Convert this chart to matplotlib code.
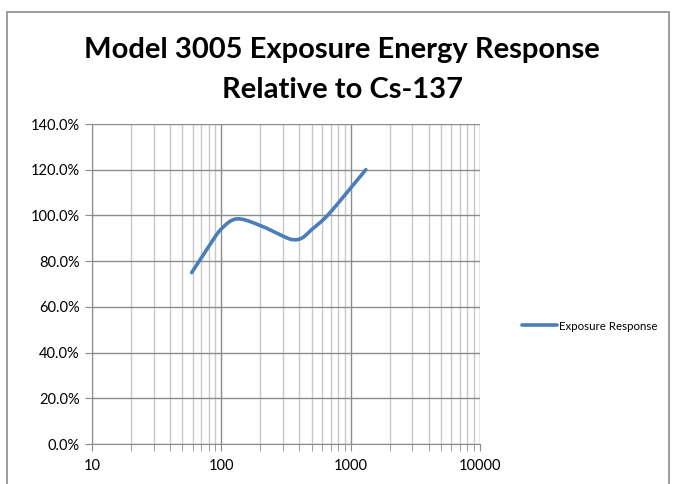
import numpy as np
import matplotlib
matplotlib.use('Agg')
import matplotlib.pyplot as plt
from matplotlib.ticker import FuncFormatter, LogLocator, NullFormatter
from matplotlib.patches import Rectangle

# energy (keV) vs response relative to Cs-137
energy = [59, 80, 100, 132, 200, 300, 358, 420, 500, 662, 1000, 1310]
response = [0.75, 0.865, 0.941, 0.985, 0.956, 0.909, 0.894, 0.901, 0.938, 1.00, 1.12, 1.20]

plt.rcParams['font.family'] = ['Lato', 'DejaVu Sans']

def smooth(x, y, n=40):
    # excel-style smoothed line: catmull-rom in log-x / linear-y space
    lx = np.log10(x)
    yy = np.array(y, dtype=float)
    px = np.concatenate([[2*lx[0]-lx[1]], lx, [2*lx[-1]-lx[-2]]])
    py = np.concatenate([[2*yy[0]-yy[1]], yy, [2*yy[-1]-yy[-2]]])
    ox, oy = [], []
    for i in range(1, len(px)-2):
        t = np.linspace(0, 1, n)
        p0, p1, p2, p3 = px[i-1], px[i], px[i+1], px[i+2]
        q0, q1, q2, q3 = py[i-1], py[i], py[i+1], py[i+2]
        c1x, c1y = p1 + (p2-p0)/6, q1 + (q2-q0)/6
        c2x, c2y = p2 - (p3-p1)/6, q2 - (q3-q1)/6
        bx = (1-t)**3*p1 + 3*(1-t)**2*t*c1x + 3*(1-t)*t**2*c2x + t**3*p2
        by = (1-t)**3*q1 + 3*(1-t)**2*t*c1y + 3*(1-t)*t**2*c2y + t**3*q2
        ox.extend(bx); oy.extend(by)
    return 10**np.array(ox), np.array(oy)

fig = plt.figure(figsize=(6.74, 4.84), dpi=100)
fig.patches.append(Rectangle((7/674, -0.1), 662/674, 1.1 - 12/484, transform=fig.transFigure,
                             fill=False, edgecolor='#8c8c8c', linewidth=1.2))
ax = fig.add_axes([92/674, 40/484, 388/674, 320/484])

sx, sy = smooth(energy, response)
ax.plot(sx, sy, color='#4a7ebb', linewidth=2.6, solid_capstyle='round', label='Exposure Response')

ax.set_xscale('log')
ax.set_xlim(10, 10000)
ax.set_ylim(0, 1.4)
ax.set_yticks(np.arange(0, 1.41, 0.2))
ax.yaxis.set_major_formatter(FuncFormatter(lambda v, p: '%.1f%%' % (v*100)))
ax.xaxis.set_major_formatter(FuncFormatter(lambda v, p: '%d' % v))
ax.xaxis.set_minor_locator(LogLocator(base=10, subs=np.arange(2, 10)))
ax.xaxis.set_minor_formatter(NullFormatter())

ax.grid(True, which='major', axis='both', color='#8c8c8c', linewidth=1)
ax.grid(True, which='minor', axis='x', color='#c8c8c8', linewidth=1)
ax.set_axisbelow(True)
for s in ['top', 'right']:
    ax.spines[s].set_visible(False)
for s in ['left', 'bottom']:
    ax.spines[s].set_color('#8c8c8c')
ax.tick_params(axis='both', which='both', colors='#8c8c8c', labelcolor='black', labelsize=10.5)
ax.tick_params(axis='x', which='major', length=5, pad=6)
ax.tick_params(axis='x', which='minor', length=5)
ax.tick_params(axis='y', length=5, pad=4)

fig.text(342/674, 1 - 50/484, 'Model 3005 Exposure Energy Response', ha='center', va='center',
         fontsize=21, fontweight='bold')
fig.text(342/674, 1 - 90/484, 'Relative to Cs-137', ha='center', va='center',
         fontsize=21, fontweight='bold')

leg = fig.legend(loc='center left', bbox_to_anchor=(512/674, 1 - 326/484), frameon=False,
                 fontsize=8.3, handlelength=3.0, handletextpad=0.2)

fig.savefig('out.png', dpi=100)
